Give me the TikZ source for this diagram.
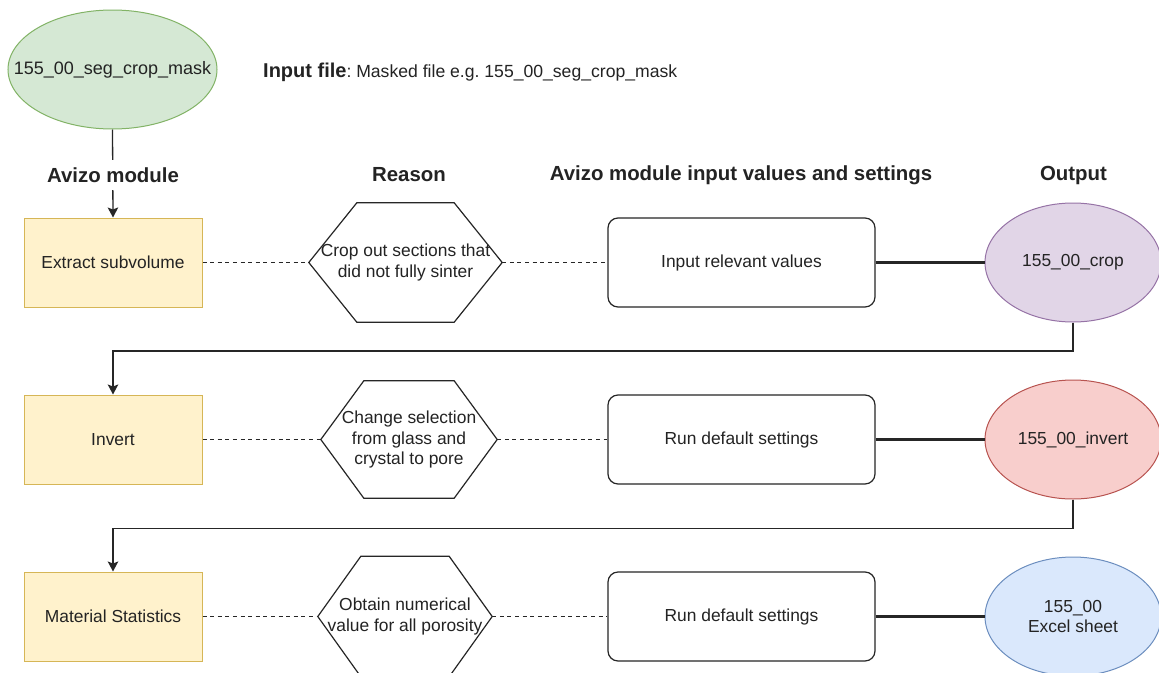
\documentclass[tikz,border=0pt]{standalone}
\usepackage{fontspec}
\setmainfont{Liberation Sans}
\usetikzlibrary{arrows.meta,shapes.geometric,calc}
\frenchspacing

\definecolor{txt}{RGB}{35,35,35}
\definecolor{yfill}{HTML}{FFF2CC}
\definecolor{ydraw}{HTML}{D6B656}
\definecolor{gfill}{HTML}{D5E8D4}
\definecolor{gdraw}{HTML}{82B366}
\definecolor{pfill}{HTML}{E1D5E7}
\definecolor{pdraw}{HTML}{9673A6}
\definecolor{rfill}{HTML}{F8CECC}
\definecolor{rdraw}{HTML}{B85450}
\definecolor{bfill}{HTML}{DAE8FC}
\definecolor{bdraw}{HTML}{6C8EBF}

\newcommand{\bodyfont}{\fontsize{17.4}{20.5}\selectfont}
\newcommand{\headfont}{\fontsize{20.4}{24}\selectfont\bfseries}
\newcommand{\hexdraw}[2]{\draw[hexline] (#1.west) -- ([xshift=#2]#1.north west) -- ([xshift=-#2]#1.north east) -- (#1.east) -- ([xshift=-#2]#1.south east) -- ([xshift=#2]#1.south west) -- cycle;}

\tikzset{
  every node/.style={text=txt, font=\bodyfont, inner sep=0pt, align=center},
  modbox/.style={draw=ydraw, fill=yfill, line width=1pt, minimum width=178pt, minimum height=89pt},
  hexbox/.style={minimum height=119pt},
  hexline/.style={draw=black!85, line width=1.2pt},
  setbox/.style={draw=black!85, line width=1.2pt, rounded corners=10pt, minimum width=267pt, minimum height=89pt},
  outell/.style={ellipse, line width=1pt, minimum width=176pt, minimum height=119pt},
  header/.style={font=\headfont, fill=white, minimum height=30pt, inner xsep=2pt},
  dashline/.style={draw=black!85, line width=1.2pt, dash pattern=on 4pt off 3.6pt},
  thickline/.style={draw=black!85, line width=2.4pt},
  flow/.style={draw=black!85, line width=1.3pt, -{Stealth[length=10pt,width=10.5pt,inset=2pt]}},
}

\begin{document}
\begin{tikzpicture}[x=1pt,y=-1pt]
\useasboundingbox[fill=white] (0,0) rectangle (1159,672);

% input
\node[ellipse, draw=gdraw, fill=gfill, line width=1pt, minimum width=209pt, minimum height=119pt] (inp) at (112.5,69.5) {\makebox[0pt][c]{\fontsize{18}{22}\selectfont 155\_00\_seg\_crop\_mask}};
\node[anchor=west] (inptxt) at (263,72) {{\fontsize{20}{24}\selectfont\bfseries Input file}{\fontsize{17.6}{21}\selectfont: Masked file e.g. 155\_00\_seg\_crop\_mask}};

% row 1
\node[modbox] (m1) at (113,262.5) {Extract subvolume};
\node[hexbox, minimum width=193pt] (h1) at (405.5,262.5) {Crop out sections that\\did not fully sinter};
\hexdraw{h1}{48}
\node[setbox] (s1) at (741.5,262.5) {Input relevant values};
\node[outell, draw=pdraw, fill=pfill] (o1) at (1073,262.5) {155\_00\_crop};

% row 2
\node[modbox] (m2) at (113,439.5) {Invert};
\node[hexbox, minimum width=176pt, minimum height=117pt] (h2) at (409,439.5) {Change selection\\from glass and\\crystal to pore};
\hexdraw{h2}{43}
\node[setbox] (s2) at (741.5,439.5) {Run default settings};
\node[outell, draw=rdraw, fill=rfill] (o2) at (1073,439.5) {155\_00\_invert};

% row 3
\node[modbox] (m3) at (113,616.5) {Material Statistics};
\node[hexbox, minimum width=174pt, minimum height=120pt] (h3) at (405,616.5) {Obtain numerical\\value for all porosity};
\hexdraw{h3}{43}
\node[setbox] (s3) at (741.5,616.5) {Run default settings};
\node[outell, draw=bdraw, fill=bfill] (o3) at (1073,616.5) {155\_00\\Excel sheet};

% connectors within rows
\draw[dashline] (m1.east) -- (h1.west);
\draw[dashline] (h1.east) -- (s1.west);
\draw[thickline] (s1.east) -- (o1.west);
\draw[dashline] (m2.east) -- (h2.west);
\draw[dashline] (h2.east) -- (s2.west);
\draw[thickline] (s2.east) -- (o2.west);
\draw[dashline] (m3.east) -- (h3.west);
\draw[dashline] (h3.east) -- (s3.west);
\draw[thickline] (s3.east) -- (o3.west);

% flow between rows
\coordinate (j1) at (113,351);
\coordinate (j2) at (113,528.5);
\draw[flow] (inp.south) -- (m1.north);
\draw[flow] (o1.south) |- (j1) -- (m2.north);
\draw[flow] (o2.south) |- (j2) -- (m3.north);

% headers
\node[header] (hd1) at (113,175) {Avizo module};
\node[header] (hd2) at (409,175) {Reason};
\node[header] (hd3) at (741,175) {Avizo module input values and settings};
\node[header] (hd4) at (1073.5,175) {Output};
\end{tikzpicture}
\end{document}
